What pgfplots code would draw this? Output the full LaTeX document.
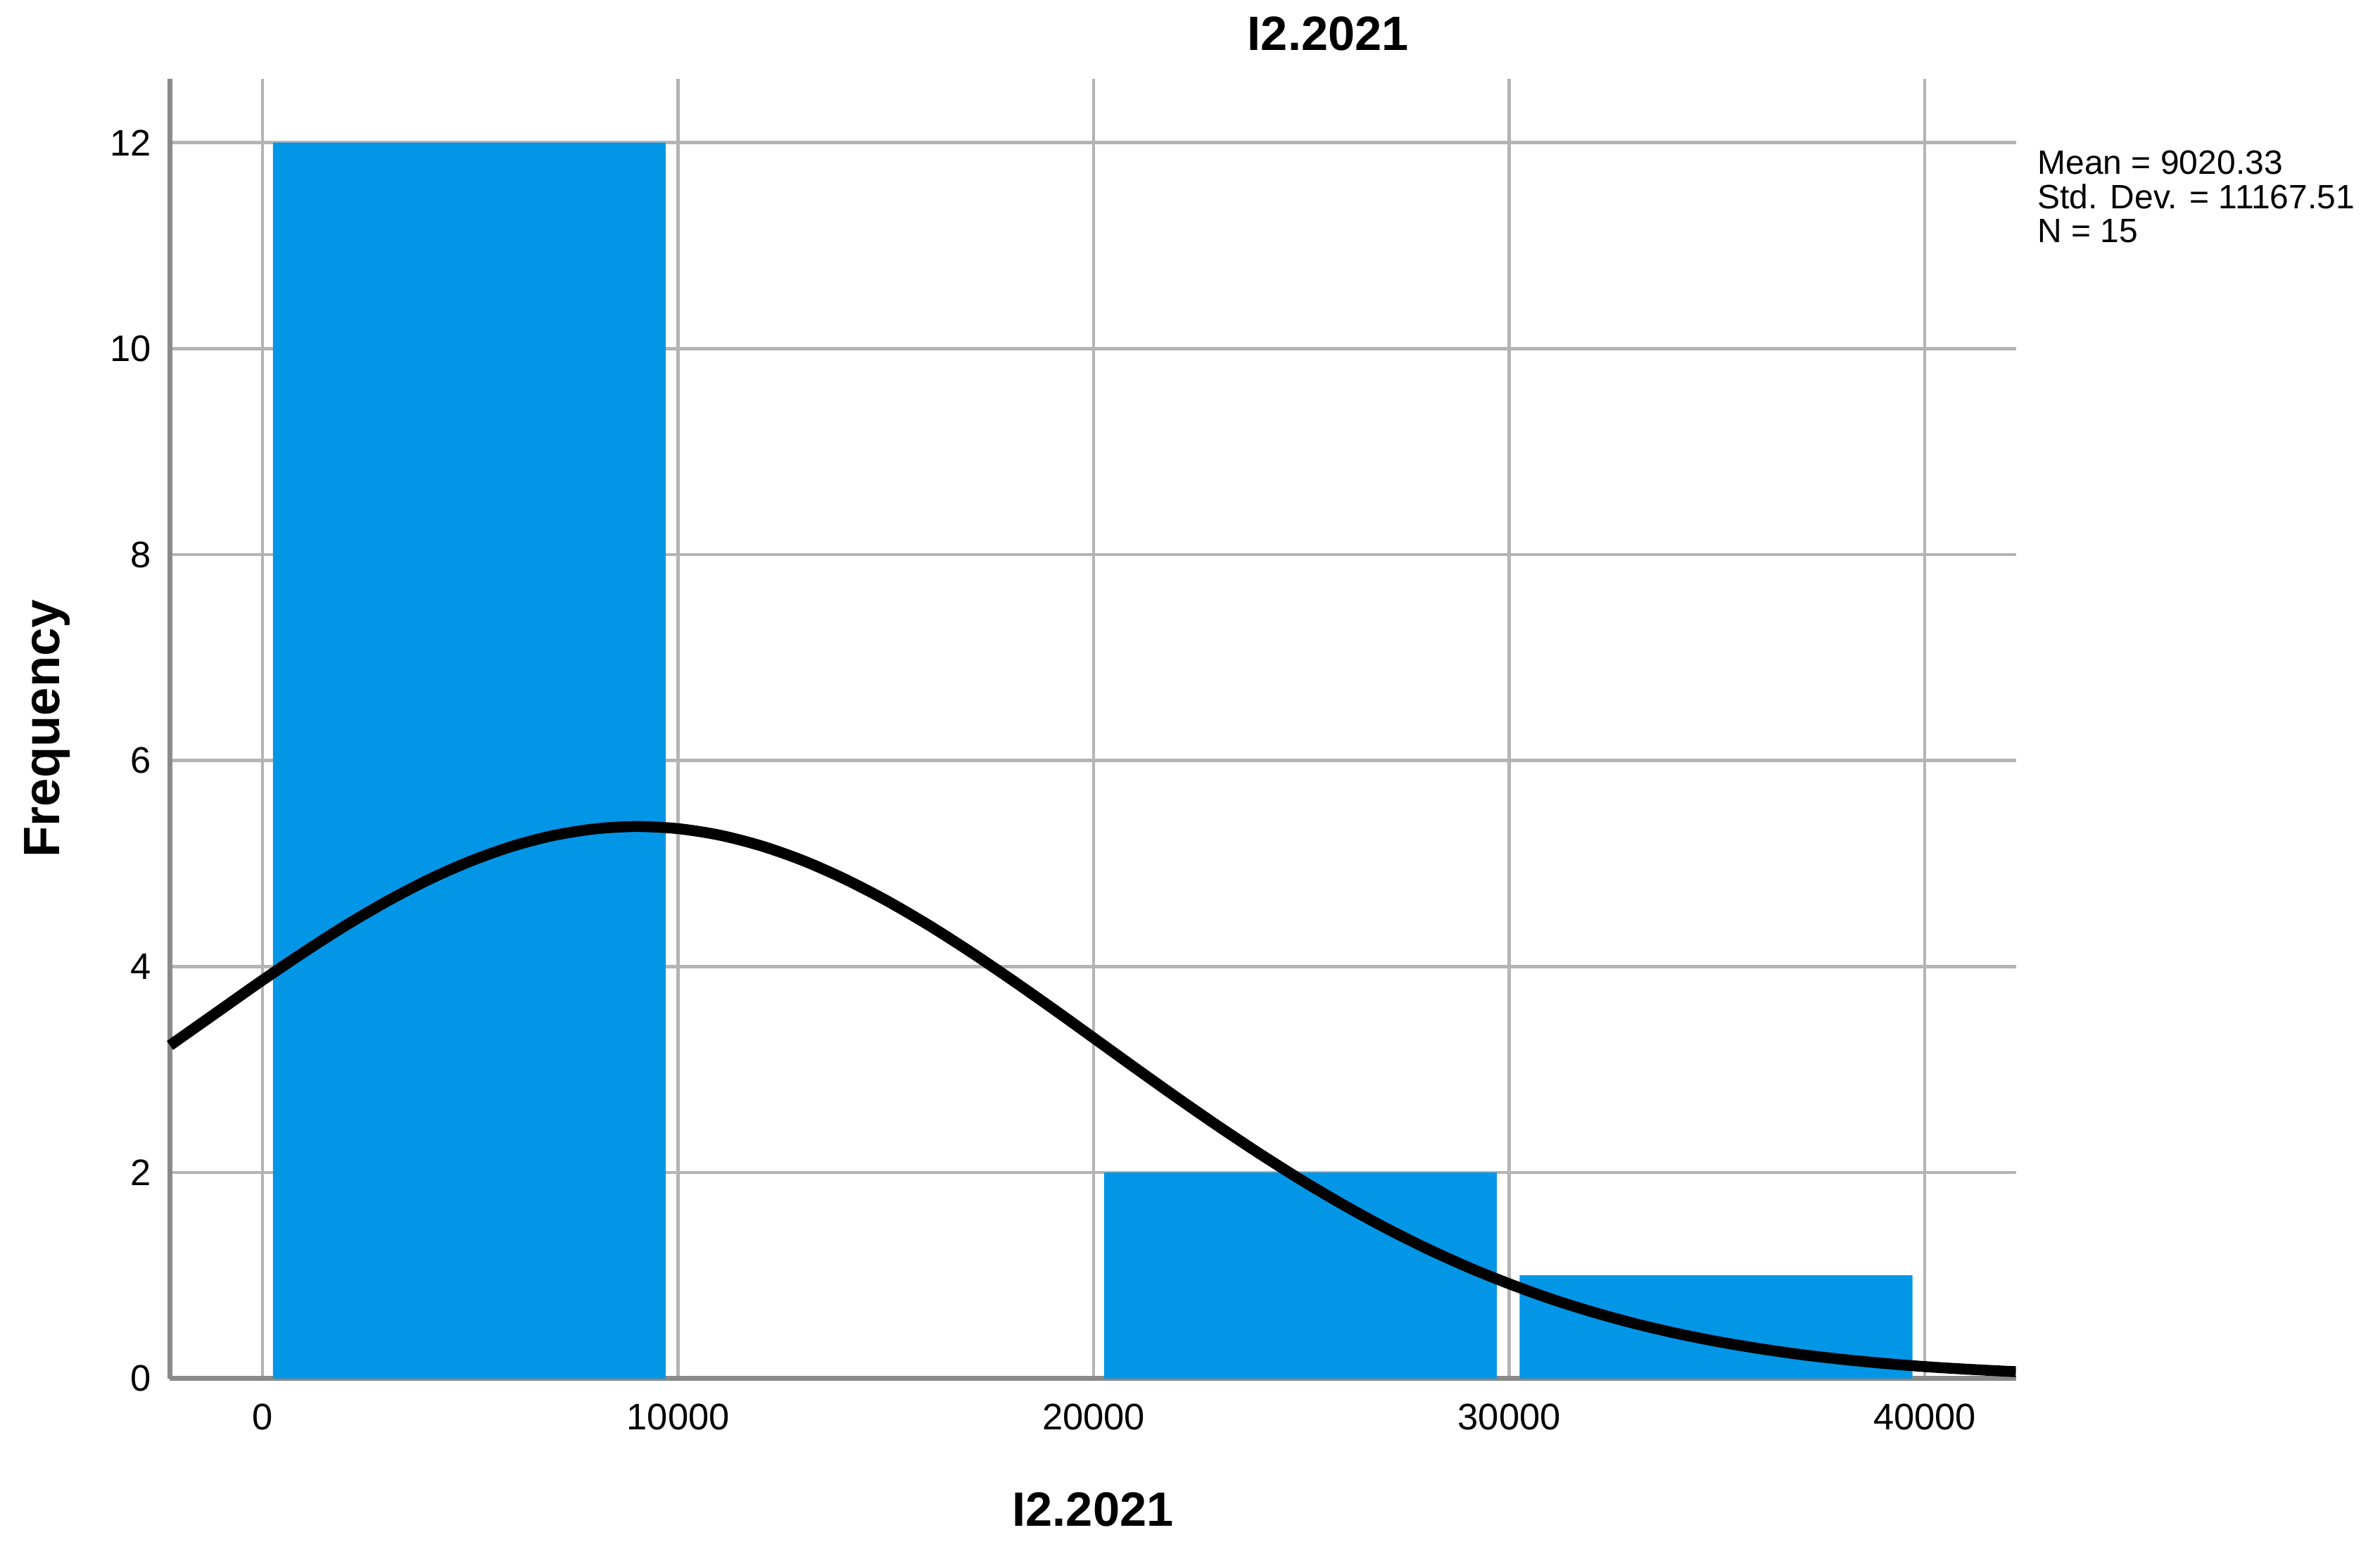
\documentclass[border=0pt]{standalone}
\usepackage{fontspec}
\setmainfont{Liberation Sans}
\usepackage{pgfplots}
\pgfplotsset{compat=1.18}
\usetikzlibrary{calc}
\definecolor{barblue}{HTML}{0396E6}
\definecolor{gridgray}{HTML}{B4B4B4}
\definecolor{axisgray}{HTML}{8A8A8A}

\begin{document}
\begin{tikzpicture}
\useasboundingbox (-48.3pt,-48.3pt) rectangle (628.1pt,391.7pt);
\begin{axis}[
  at={(0,0)}, anchor=south west,
  scale only axis, width=524.6pt, height=369.3pt,
  xmin=-2230, xmax=42190, ymin=0, ymax=12.62,
  axis lines*=left, axis line style={axisgray, line width=1.4pt},
  xtick={0,10000,20000,30000,40000}, xticklabels={0,10000,20000,30000,40000},
  scaled x ticks=false,
  ytick={0,2,...,12},
  grid=major, major grid style={gridgray, line width=0.9pt},
  major tick length=0pt,
  tick label style={font=\fontsize{10.5}{12}\selectfont},
  xticklabel style={anchor=north, inner sep=0pt, yshift=-7pt},
  yticklabel style={anchor=east, inner sep=0pt, xshift=-5.2pt},
  /pgf/number format/assume math mode=true,
  clip=false,
]
% histogram bins
\addplot[ybar, bar width=9450, fill=barblue, draw=none] coordinates {
  (4975,12) (24975,2) (34975,1)
};
% normal curve (mean 9020.33, sd 11167.51, N 15)
\addplot[black, line width=3.1pt, smooth] coordinates {
  (-2230,3.233) (-1000,3.583) (0,3.867) (1000,4.140) (2000,4.398) (3000,4.634)
  (4000,4.844) (5000,5.022) (6000,5.166) (7000,5.272) (8000,5.336) (9000,5.359)
  (10000,5.338) (11000,5.275) (12000,5.171) (13000,5.029) (14000,4.851)
  (15000,4.643) (16000,4.408) (17000,4.151) (18000,3.878) (19000,3.595)
  (20000,3.305) (21000,3.014) (22000,2.727) (23000,2.448) (24000,2.180)
  (25000,1.925) (26000,1.687) (27000,1.466) (28000,1.264) (29000,1.081)
  (30000,0.918) (31000,0.772) (32000,0.645) (33000,0.534) (34000,0.439)
  (35000,0.358) (36000,0.290) (37000,0.232) (38000,0.185) (39000,0.146)
  (40000,0.114) (41000,0.089) (42000,0.068) (42190,0.065)
};
\node[font=\fontsize{13.7}{16}\selectfont\bfseries, anchor=base] at ($(rel axis cs:0.6274,1)+(0pt,8pt)$) {I2.2021};
\node[font=\fontsize{13.7}{16}\selectfont\bfseries, anchor=base] at ($(rel axis cs:0.5,0)+(0pt,-41.9pt)$) {I2.2021};
\node[font=\fontsize{14.5}{16}\selectfont\bfseries, anchor=base, rotate=90] at ($(rel axis cs:0,0.5)+(-31.3pt,0pt)$) {Frequency};
\node[font=\fontsize{9.6}{11}\selectfont, anchor=base west, inner sep=0pt] at ($(rel axis cs:1,1)+(6pt,-27.2pt)$) {Mean = 9020.33};
\node[font=\fontsize{9.6}{11}\selectfont, anchor=base west, inner sep=0pt] at ($(rel axis cs:1,1)+(6pt,-36.9pt)$) {Std. Dev. = 11167.51};
\node[font=\fontsize{9.6}{11}\selectfont, anchor=base west, inner sep=0pt] at ($(rel axis cs:1,1)+(6pt,-46.6pt)$) {N = 15};
\end{axis}
\end{tikzpicture}
\end{document}
